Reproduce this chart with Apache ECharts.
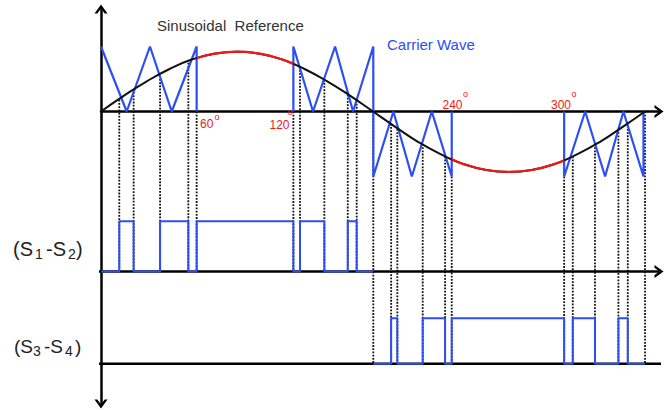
<!DOCTYPE html>
<html><head><meta charset="utf-8">
<script src="https://cdn.jsdelivr.net/npm/echarts@6/dist/echarts.min.js"></script>
<style>html,body{margin:0;padding:0;background:#fff}#c{width:665px;height:410px}</style>
</head><body><div id="c"></div>
<script>
// ---------- data (x in electrical degrees, y in carrier-amplitude units) ----------
const sineRef = [[0,0],[15,0.24],[30,0.46],[45,0.65],[60,0.8],[75,0.89],[90,0.92],[105,0.89],[120,0.8],[135,0.65],[150,0.46],[165,0.24],[180,0],
  [195,-0.24],[210,-0.47],[225,-0.66],[240,-0.81],[255,-0.9],[270,-0.93],[285,-0.9],[300,-0.81],[315,-0.66],[330,-0.47],[345,-0.24],[360,0]];
const sineRedA = [[63.3,0.82],[75,0.89],[90,0.92],[105,0.89],[120,0.8],[127.3,0.73]];
const sineRedB = [[232.1,-0.73],[240,-0.81],[255,-0.9],[270,-0.93],[285,-0.9],[300,-0.81],[306.5,-0.75]];
const carrierA = [[0,1],[17,0],[32.4,1],[46.8,0],[63.3,1],[63.3,0]];
const carrierB = [[127.3,0],[127.3,1],[140.3,0],[154.9,1],[166.8,0],[180.2,1],[180.2,-1],[193.5,0],[205.7,-1],[218.9,0],[232.1,-1],[232.1,0]];
const carrierC = [[306.5,0],[306.5,-1],[320.4,0],[333.6,-1],[345.7,0],[359,-1],[359,0]];
const pulsesS12 = [[12.1,21.6],[39.1,57.8],[63.3,127.3],[131.7,147.8],[163.3,169.2]];
const pulsesS34 = [[192.0,196.1],[212.9,227.7],[232.1,306.5],[312.2,326.9],[342.4,348.6]];
const spanS12 = [0,180.2];
const spanS34 = [180.2,360];
const levelS12 = [-2.46,-1.69];   // [low, high]
const levelS34 = [-3.88,-3.18];
const dropsPos = [[12.1,0.18],[21.6,0.3],[39.1,0.55],[57.8,0.75],[63.3,0],[127.3,0],[131.7,0.69],[147.8,0.49],[163.3,0.26],[169.2,0.17]];
const dropsNeg = [[180.2,0],[192.0,-0.19],[196.1,-0.27],[212.9,-0.5],[227.7,-0.69],[232.1,-1],[306.5,-1],[312.2,-0.69],[326.9,-0.5],[342.4,-0.27],[348.6,-0.17],[360,0]];
const baseStart = -15.2;
const degreeLabels = ['60','120','240','300'];
const titleRef = 'Sinusoidal  Reference';
const titleCarrier = 'Carrier Wave';

// ---------- layout ----------
const PX_DEG = 544/360, PX_UNIT = 65, ZERO_Y = 111.5;
const G_LEFT = 101, G_TOP = 9, G_W = 558, G_H = 395;
const XMAX = G_W/PX_DEG, YMAX = (ZERO_Y-G_TOP)/PX_UNIT, YMIN = -(G_TOP+G_H-ZERO_Y)/PX_UNIT;
const CHEV = 'path://M0,9 L6.5,0 L13,9 L10.16,9 L6.5,3.93 L2.84,9 Z';
const BLUE = '#2d4ef5', RED = '#f01818', FONT = '"Liberation Sans", Arial, sans-serif';

function pulseLine(span, edges, lv){
  const p=[[span[0],lv[0]]];
  edges.forEach(([a,b])=>{p.push([a,lv[0]],[a,lv[1]],[b,lv[1]],[b,lv[0]]);});
  p.push([span[1],lv[0]]);
  return p;
}
const base = {type:'line', silent:true, showSymbol:false, clip:false, animation:false};
const dotStyle = {color:'#111',width:1.8,type:[1.8,1.4]};
const series = [];
dropsPos.forEach(([x,y])=>series.push(Object.assign({},base,{data:[[x,y],[x,levelS12[0]]],lineStyle:dotStyle})));
dropsNeg.forEach(([x,y])=>series.push(Object.assign({},base,{data:[[x,y],[x,levelS34[0]]],lineStyle:dotStyle})));
series.push(Object.assign({},base,{showSymbol:true,symbol:'none',itemStyle:{color:'#000',borderWidth:0},
  data:[[baseStart,levelS12[0]],{value:[XMAX,levelS12[0]],symbol:CHEV,symbolSize:[13,9],symbolRotate:-90}],lineStyle:{color:'#000',width:2.5}}));
series.push(Object.assign({},base,{data:[[baseStart,levelS34[0]],[XMAX+5,levelS34[0]]],lineStyle:{color:'#000',width:2.5}}));
series.push(Object.assign({},base,{data:pulseLine(spanS12,pulsesS12,levelS12),lineStyle:{color:BLUE,width:2}}));
series.push(Object.assign({},base,{data:pulseLine(spanS34,pulsesS34,levelS34),lineStyle:{color:BLUE,width:2}}));
[carrierA,carrierB,carrierC].forEach(c=>series.push(Object.assign({},base,{data:c,lineStyle:{color:BLUE,width:2.2}})));
series.push(Object.assign({},base,{data:sineRef,smooth:true,lineStyle:{color:'#111',width:2}}));
[sineRedA,sineRedB].forEach(c=>series.push(Object.assign({},base,{data:c,smooth:true,lineStyle:{color:RED,width:2.2}})));

function txt(x,y,text,size,color){
  return {type:'text',x:x,y:y,z:100,zlevel:1,silent:true,style:{text:text,fontSize:size,fontFamily:FONT,fill:color,align:'left',verticalAlign:'middle'}};
}
const graphic = [
  txt(157,25,titleRef,15,'#333'),
  txt(387,44,titleCarrier,15,BLUE),
  txt(200,124,degreeLabels[0],12,RED), txt(214.5,117,'o',9,RED),
  txt(269.5,124.5,degreeLabels[1],12,RED), txt(287.5,112,'o',9,RED),
  txt(442.5,104.5,degreeLabels[2],12,RED), txt(463,94,'o',9,RED),
  txt(551,104.5,degreeLabels[3],12,RED), txt(571.5,94,'o',9,RED),
  txt(13,249,'(S',20,'#222'), txt(35,254,'1',14,'#222'), txt(46,249,'-S',20,'#222'), txt(68,254,'2',14,'#222'), txt(76,249,')',20,'#222'),
  txt(14,346.5,'(S',19,'#222'), txt(33,351,'3',14,'#222'), txt(44,346.5,'-S',19,'#222'), txt(65,351,'4',14,'#222'), txt(75,346.5,')',19,'#222')
];

const chart = echarts.init(document.getElementById('c'), null, {renderer:'svg'});
chart.setOption({
  animation:false,
  grid:{left:G_LEFT, top:G_TOP, width:G_W, height:G_H},
  xAxis:{type:'value', min:0, max:XMAX, axisLine:{onZero:true, lineStyle:{color:'#000',width:2.5}, symbol:['none',CHEV], symbolSize:[13,9]},
    axisTick:{show:false}, axisLabel:{show:false}, splitLine:{show:false}},
  yAxis:{type:'value', min:YMIN, max:YMAX, axisLine:{onZero:true, lineStyle:{color:'#000',width:2.5}, symbol:[CHEV,CHEV], symbolSize:[13,9]},
    axisTick:{show:false}, axisLabel:{show:false}, splitLine:{show:false}},
  series: series,
  graphic: graphic
});
</script></body></html>
